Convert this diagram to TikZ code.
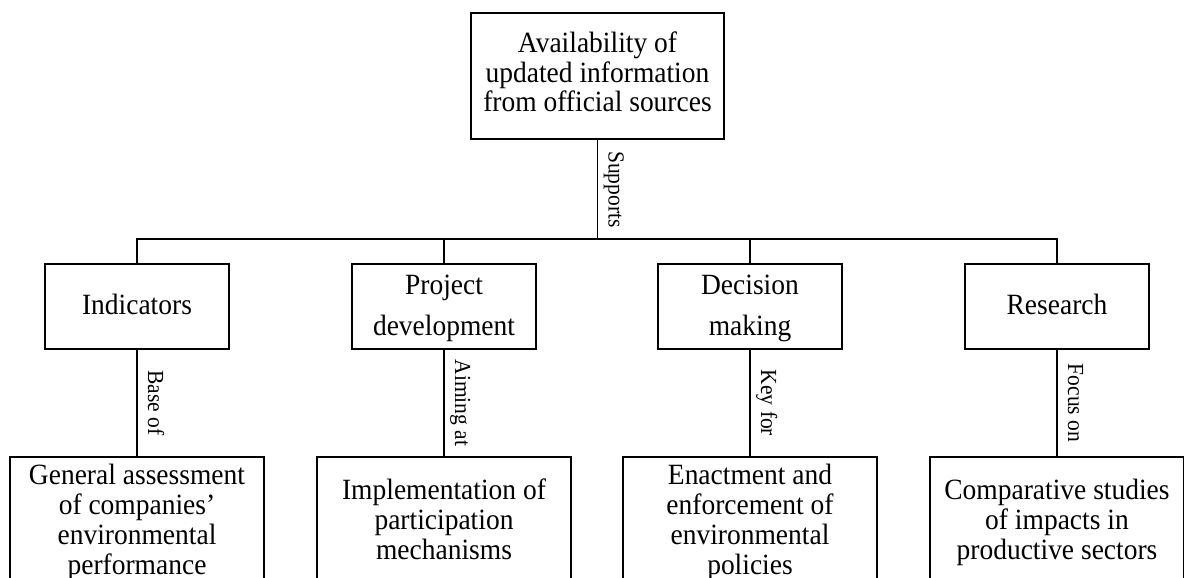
\documentclass[tikz,border=0pt]{standalone}
\usepackage{fontspec}
\setmainfont{Liberation Serif}[FakeStretch=0.935]
\begin{document}
\begin{tikzpicture}[x=1pt,y=-1pt,
  line width=1.4pt,
  box/.style={draw, line width=1.4pt, align=center, inner sep=0pt},
  topbox/.style={box, minimum width=253pt, minimum height=126pt,
    font=\fontsize{29.4}{28.5}\selectfont},
  midbox/.style={box, minimum width=184pt, minimum height=85pt,
    font=\fontsize{29.4}{41}\selectfont},
  botbox/.style={box, minimum width=254pt, minimum height=132pt,
    font=\fontsize{29.4}{30}\selectfont},
  lab/.style={midway, xshift=11pt, rotate=-90, anchor=base, inner sep=0pt,
    font=\fontsize{23}{24}\selectfont}
]
\useasboundingbox (0,0) rectangle (1184,578);
\clip (0,0) rectangle (1184,578);

\node[topbox] (top) at (597.5,76) {\strut Availability of\\updated information\\from official sources\strut};

\node[midbox] (m1) at (137,306.5) {\strut Indicators\strut};
\node[midbox] (m2) at (444,306.5) {\strut Project\\development\strut};
\node[midbox] (m3) at (750,306.5) {\strut Decision\\making\strut};
\node[midbox] (m4) at (1057,306.5) {\strut Research\strut};

\node[botbox] (b1) at (137,523) {\strut General assessment\\of companies’\\environmental\\performance\strut};
\node[botbox] (b2) at (444,523) {\strut Implementation of\\participation\\mechanisms\strut};
\node[botbox] (b3) at (750,523) {\strut Enactment and\\enforcement of\\environmental\\policies\strut};
\node[botbox] (b4) at (1057,523) {\strut Comparative studies\\of impacts in\\productive sectors\strut};

\coordinate (j) at (596,239);

\draw (top.south) -- (top.south |- j) node[lab] {Supports};
\draw (m1.north) -- (m1.north |- j) -- (m4.north |- j) -- (m4.north);
\draw (m2.north) -- (m2.north |- j);
\draw (m3.north) -- (m3.north |- j);

\draw (m1.south) -- (b1.north) node[lab] {Base of};
\draw (m2.south) -- (b2.north) node[lab] {Aiming at};
\draw (m3.south) -- (b3.north) node[lab] {Key for};
\draw (m4.south) -- (b4.north) node[lab] {Focus on};
\end{tikzpicture}
\end{document}
